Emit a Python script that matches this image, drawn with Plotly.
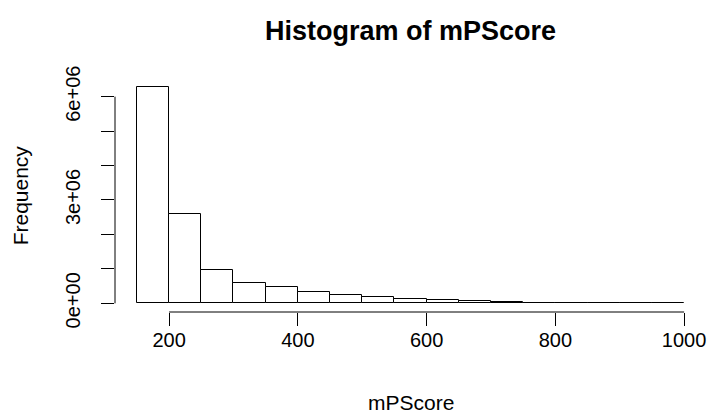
import plotly.graph_objects as go

# histogram of mPScore, bins of width 50 from 150 to 1000
bin_starts = [150, 200, 250, 300, 350, 400, 450, 500, 550, 600, 650, 700, 750, 800, 850, 900, 950]
bin_width = 50
counts = [6290000, 2580000, 970000, 600000, 470000, 335000, 256000, 170000, 130000,
          100000, 55000, 25000, 12000, 6000, 4000, 2500, 1500]

x_ticks = [200, 400, 600, 800, 1000]
y_ticks = [0, 1e6, 2e6, 3e6, 4e6, 5e6, 6e6]
y_ticktext = ["0e+00", "", "", "3e+06", "", "", "6e+06"]

FONT = "Liberation Sans, Arial, Helvetica, sans-serif"

centers = [s + bin_width / 2 for s in bin_starts]

# R-style 4% padding on both axes
x_lo, x_hi = bin_starts[0], bin_starts[-1] + bin_width
x_pad = (x_hi - x_lo) * 0.04
y_pad = max(counts) * 0.04

fig = go.Figure()
fig.add_trace(
    go.Bar(
        x=centers,
        y=counts,
        width=bin_width,
        marker=dict(color="white", line=dict(color="black", width=1)),
        hoverinfo="x+y",
        showlegend=False,
    )
)

axis_common = dict(
    showgrid=False,
    zeroline=False,
    showline=False,
    ticks="outside",
    ticklen=13,
    tickwidth=1,
    tickcolor="black",
    tickfont=dict(family=FONT, size=20, color="black"),
)

fig.update_xaxes(
    range=[x_lo - x_pad, x_hi + x_pad],
    tickvals=x_ticks,
    ticklabelstandoff=-3,
    **axis_common,
)
fig.update_yaxes(
    range=[-y_pad, max(counts) + y_pad],
    tickvals=y_ticks,
    ticktext=y_ticktext,
    tickangle=-90,
    ticklabelstandoff=13,
    **axis_common,
)

# R draws the axis line only between the first and last tick
fig.add_shape(type="line", xref="x", yref="paper", x0=x_ticks[0], x1=x_ticks[-1], y0=0, y1=0,
              line=dict(color="black", width=1))
fig.add_shape(type="line", xref="paper", yref="y", x0=0, x1=0, y0=y_ticks[0], y1=y_ticks[-1],
              line=dict(color="black", width=1))

fig.add_annotation(text="mPScore", xref="paper", yref="paper", x=0.5, y=-0.446,
                   showarrow=False, font=dict(family=FONT, size=21, color="black"))
fig.add_annotation(text="Frequency", xref="paper", yref="paper", x=-0.183, y=0.5, textangle=-90,
                   showarrow=False, font=dict(family=FONT, size=21, color="black"))

fig.update_layout(
    width=711,
    height=416,
    margin=dict(l=115, r=5, t=78, b=104),
    paper_bgcolor="white",
    plot_bgcolor="white",
    title=dict(
        text="<b>Histogram of mPScore</b>",
        x=0.5 * (115 + 706) / 711,
        xanchor="center",
        y=1 - 31 / 416,
        yanchor="middle",
        font=dict(family=FONT, size=27, color="black"),
    ),
    bargap=0,
)

# drop the page's default body margin so the figure sits at the window's corner
fig.write_html("out.html", config={"displayModeBar": False},
               post_script="document.body.style.margin='0';")
